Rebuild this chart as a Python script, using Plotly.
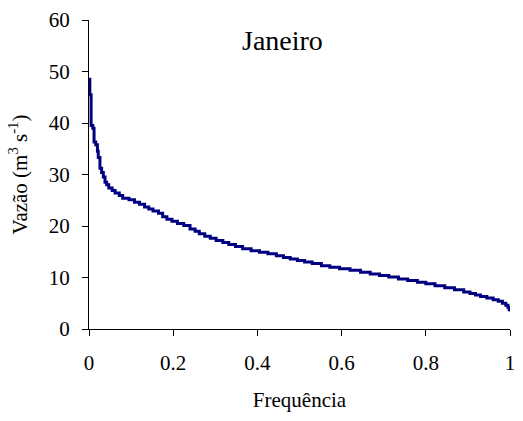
import plotly.graph_objects as go

# Flow duration curve for January: exceedance frequency vs. discharge (m³/s)
frequencia = [
    0.000, 0.002, 0.005, 0.009, 0.012, 0.016, 0.020, 0.022, 0.026, 0.030,
    0.034, 0.038, 0.042, 0.047, 0.055, 0.062, 0.072, 0.080, 0.095, 0.108,
    0.120, 0.132, 0.142, 0.152, 0.165, 0.175, 0.185, 0.197, 0.210, 0.225,
    0.240, 0.252, 0.262, 0.275, 0.288, 0.302, 0.318, 0.332, 0.348, 0.365,
    0.385, 0.405, 0.425, 0.445, 0.462, 0.478, 0.495, 0.512, 0.530, 0.552,
    0.572, 0.595, 0.620, 0.645, 0.668, 0.690, 0.712, 0.735, 0.757, 0.780,
    0.800, 0.822, 0.845, 0.868, 0.890, 0.905, 0.918, 0.930, 0.945, 0.960,
    0.972, 0.982, 0.990, 0.995, 0.998, 1.000,
]
vazao = [
    48.5, 45.5, 39.5, 39.0, 36.3, 35.8, 34.5, 33.3, 31.2, 30.4,
    29.5, 28.5, 28.0, 27.4, 26.9, 26.4, 25.9, 25.4, 25.1, 24.6,
    24.2, 23.7, 23.3, 22.9, 22.5, 21.8, 21.3, 20.9, 20.5, 20.1,
    19.4, 19.0, 18.5, 18.0, 17.6, 17.2, 16.8, 16.4, 16.0, 15.6,
    15.2, 14.9, 14.6, 14.2, 13.9, 13.6, 13.3, 13.0, 12.7, 12.3,
    12.0, 11.7, 11.4, 11.0, 10.7, 10.4, 10.1, 9.7, 9.4, 9.1,
    8.8, 8.4, 8.0, 7.6, 7.2, 6.9, 6.6, 6.3, 6.0, 5.7,
    5.4, 5.0, 4.6, 4.2, 3.8, 3.4,
]

x_ticks = [0, 0.2, 0.4, 0.6, 0.8, 1]
x_tick_labels = ["0", "0.2", "0.4", "0.6", "0.8", "1"]
y_ticks = [0, 10, 20, 30, 40, 50, 60]

FONT = "Liberation Serif, Times New Roman, serif"

fig = go.Figure(
    go.Scatter(
        x=frequencia,
        y=vazao,
        mode="lines",
        line=dict(color="#000080", width=3, shape="hv"),
        hoverinfo="x+y",
        showlegend=False,
    )
)

fig.update_layout(
    width=523,
    height=421,
    margin=dict(l=89, r=8, t=16, b=92),
    paper_bgcolor="white",
    plot_bgcolor="white",
    font=dict(family=FONT, size=21, color="black"),
    annotations=[
        dict(
            text="Janeiro",
            x=0.459,
            y=0.933,
            xref="paper",
            yref="paper",
            xanchor="center",
            yanchor="middle",
            showarrow=False,
            font=dict(family=FONT, size=28, color="black"),
        )
    ],
)

fig.update_xaxes(
    range=[0, 1],
    tickvals=x_ticks,
    ticktext=x_tick_labels,
    ticks="outside",
    ticklen=6,
    tickcolor="black",
    tickfont=dict(family=FONT, size=21),
    ticklabelstandoff=9,
    showline=True,
    linecolor="black",
    linewidth=1,
    showgrid=False,
    zeroline=False,
    title=dict(text="Frequência", font=dict(family=FONT, size=21), standoff=18),
)
fig.update_yaxes(
    range=[0, 60],
    tickvals=y_ticks,
    ticks="outside",
    ticklen=6,
    tickcolor="black",
    tickfont=dict(family=FONT, size=21),
    ticklabelstandoff=8,
    showline=True,
    linecolor="black",
    linewidth=1,
    showgrid=False,
    zeroline=False,
    title=dict(text="Vazão (m<sup>3</sup> s<sup>-1</sup>)", font=dict(family=FONT, size=21), standoff=15),
)

fig.write_html("out.html")
